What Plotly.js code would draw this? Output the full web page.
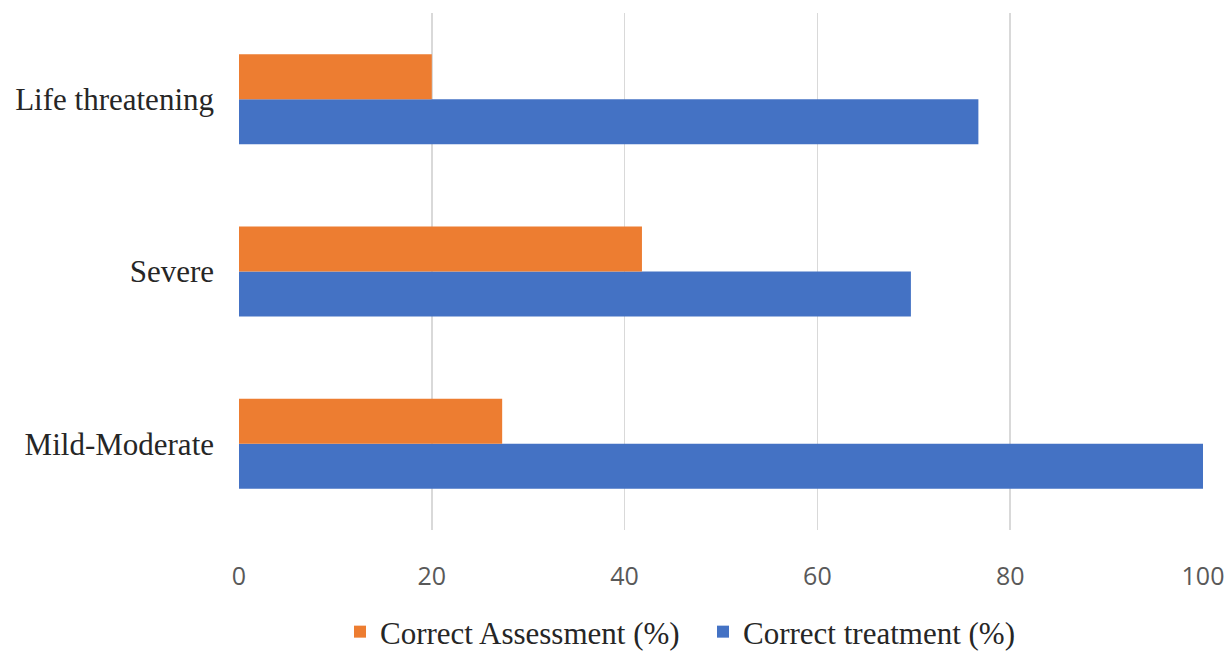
<!DOCTYPE html>
<html>
<head>
<meta charset="utf-8">
<script src="https://cdn.plot.ly/plotly-3.0.1.min.js"></script>
<style>html,body{margin:0;padding:0;background:#fff;}#chart{width:1232px;height:652px;}</style>
</head>
<body>
<div id="chart"></div>
<script>
const categories = ['Mild-Moderate', 'Severe', 'Life threatening'];
const correctAssessment = [27.3, 41.8, 20.0];
const correctTreatment = [100, 69.7, 76.7];
const xTicks = [0, 20, 40, 60, 80, 100];

const traces = [
  {
    type: 'bar', orientation: 'h', name: 'Correct treatment (%)',
    y: categories, x: correctTreatment,
    marker: {color: '#4472C4'}, hoverinfo: 'x+name'
  },
  {
    type: 'bar', orientation: 'h', name: 'Correct Assessment (%)',
    y: categories, x: correctAssessment,
    marker: {color: '#ED7D31'}, hoverinfo: 'x+name'
  }
];

const layout = {
  width: 1232, height: 652,
  margin: {l: 239, r: 29, t: 13, b: 122},
  paper_bgcolor: '#ffffff', plot_bgcolor: '#ffffff',
  barmode: 'group', bargap: 0.478, bargroupgap: 0,
  showlegend: true,
  legend: {
    orientation: 'h', traceorder: 'reversed',
    x: 340/1232, xanchor: 'left', xref: 'container',
    y: 1 - 632/652, yref: 'container', yanchor: 'middle',
    font: {family: 'Liberation Serif, Times New Roman, serif', size: 31, color: '#262626'},
    itemwidth: 30, entrywidth: 318, tracegroupgap: 0
  },
  xaxis: {
    range: [0, 100], tickvals: xTicks, ticktext: xTicks.map(String),
    showgrid: true, gridcolor: '#d9d9d9', gridwidth: 1.5,
    zeroline: false, showline: false, ticks: '',
    ticklabelstandoff: 29,
    tickfont: {family: 'Open Sans, sans-serif', size: 25, color: '#595959'},
    fixedrange: true
  },
  yaxis: {
    type: 'category', categoryorder: 'array', categoryarray: categories,
    showgrid: false, zeroline: false, showline: false, ticks: '',
    ticklabelstandoff: 24,
    tickfont: {family: 'Liberation Serif, Times New Roman, serif', size: 31, color: '#262626'},
    fixedrange: true
  }
};

Plotly.newPlot('chart', traces, layout, {displayModeBar: false, staticPlot: true});
</script>
</body>
</html>
